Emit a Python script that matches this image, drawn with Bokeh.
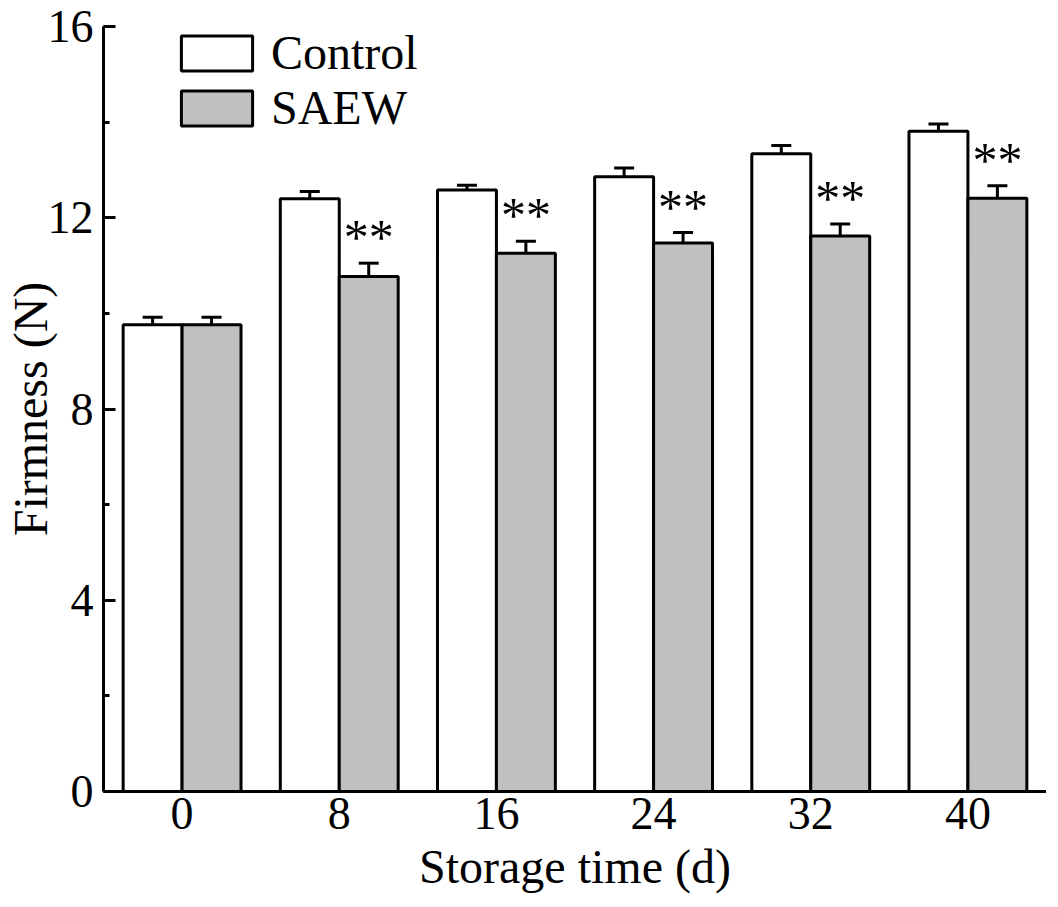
from bokeh.plotting import figure
from bokeh.models import (ColumnDataSource, FactorRange, Range1d, Whisker, TeeHead,
                          Legend, LegendItem, SingleIntervalTicker)
from bokeh.transform import dodge
from bokeh.core.properties import value
from bokeh.embed import file_html
from bokeh.resources import INLINE

# ---- data ----
days = ["0", "8", "16", "24", "32", "40"]
control = [9.76, 12.40, 12.58, 12.86, 13.34, 13.81]
control_err = [0.16, 0.15, 0.10, 0.18, 0.17, 0.15]
saew = [9.76, 10.77, 11.26, 11.47, 11.62, 12.41]
saew_err = [0.16, 0.28, 0.25, 0.22, 0.25, 0.26]
sig = ["", "**", "**", "**", "**", "**"]

FONT = "Liberation Serif"
GRAY = "#c0c0c0"

src = ColumnDataSource(dict(
    day=days,
    control=control,
    c_lo=[v - e for v, e in zip(control, control_err)],
    c_hi=[v + e for v, e in zip(control, control_err)],
    saew=saew,
    s_lo=[v - e for v, e in zip(saew, saew_err)],
    s_hi=[v + e for v, e in zip(saew, saew_err)],
    sig=sig,
))

p = figure(x_range=FactorRange(*days), y_range=Range1d(0, 16),
           frame_width=943, frame_height=765,
           output_backend="svg", toolbar_location=None,
           min_border_left=97, min_border_top=26, min_border_right=0,
           min_border_bottom=0)
p.outline_line_color = None
p.grid.visible = False
p.background_fill_color = "white"

off = 0.1875
bw = 0.375
r1 = p.vbar(x=dodge("day", -off, range=p.x_range), top="control", width=bw,
            source=src, fill_color="white", line_color="black", line_width=3)
r2 = p.vbar(x=dodge("day", off, range=p.x_range), top="saew", width=bw,
            source=src, fill_color=GRAY, line_color="black", line_width=3)

for base, lo, hi in [(-off, "c_lo", "c_hi"), (off, "s_lo", "s_hi")]:
    w = Whisker(base=dodge("day", base, range=p.x_range), lower=lo, upper=hi,
                source=src, line_color="black", line_width=3,
                upper_head=TeeHead(size=20, line_width=3, line_color="black"),
                lower_head=TeeHead(size=20, line_width=3, line_color="black"))
    p.add_layout(w)

p.text(x=dodge("day", off, range=p.x_range), y="s_hi", text="sig", source=src,
       text_align="center", text_baseline="alphabetic", y_offset=-26,
       text_font=value(FONT), text_font_size="50px", text_color="black")

# axes
p.xaxis.axis_label = "Storage time (d)"
p.xaxis.axis_line_width = 3
p.xaxis.axis_line_color = "black"
p.xaxis.major_tick_line_color = None
p.xaxis.minor_tick_line_color = None
p.xaxis.major_label_standoff = 0
p.xaxis.axis_label_standoff = 8

p.yaxis.axis_label = "Firmness (N)"
p.yaxis.ticker = SingleIntervalTicker(interval=4, num_minor_ticks=2)
p.yaxis.axis_line_width = 3
p.yaxis.axis_line_color = "black"
p.yaxis.major_tick_in = 12
p.yaxis.major_tick_out = 0
p.yaxis.minor_tick_in = 6
p.yaxis.minor_tick_out = 0
p.yaxis.major_tick_line_width = 3
p.yaxis.minor_tick_line_width = 3
p.yaxis.major_label_standoff = 10
p.yaxis.axis_label_standoff = -12

for ax in (p.xaxis, p.yaxis):
    ax.major_label_text_font = FONT
    ax.major_label_text_font_size = "46px"
    ax.major_label_text_color = "black"
    ax.axis_label_text_font = FONT
    ax.axis_label_text_font_size = "48px"
    ax.axis_label_text_font_style = "normal"
    ax.axis_label_text_color = "black"

legend = Legend(items=[LegendItem(label="Control", renderers=[r1]),
                       LegendItem(label="SAEW", renderers=[r2])],
                location=(69, 656), glyph_width=89, glyph_height=44,
                spacing=-4, padding=0, margin=0, label_standoff=10,
                label_height=44,
                label_text_font=FONT, label_text_font_size="48px",
                label_text_color="black",
                border_line_color=None, background_fill_alpha=0)
p.add_layout(legend, "center")

open("out.html", "w").write(file_html(p, INLINE))
